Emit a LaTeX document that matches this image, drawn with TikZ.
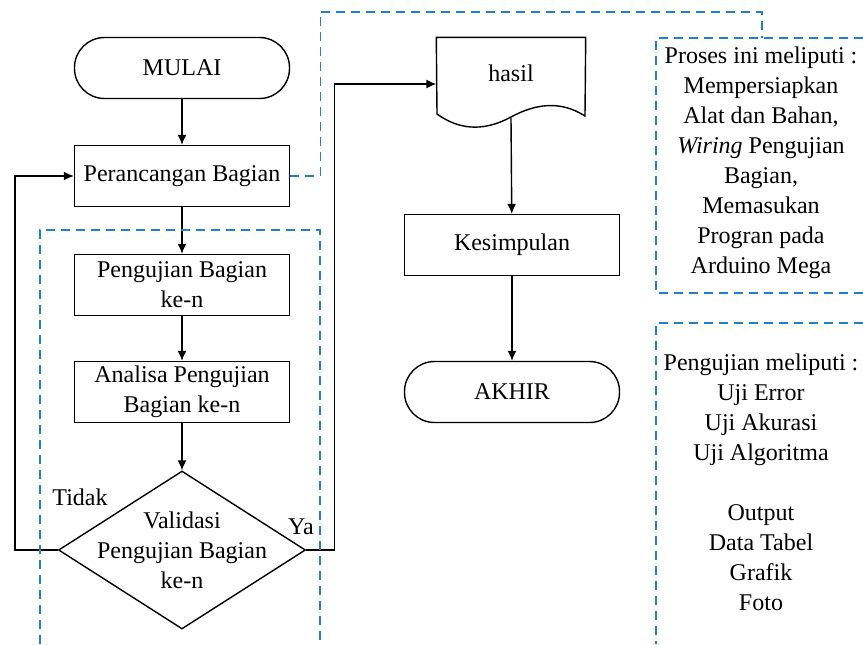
\documentclass[tikz,border=0pt]{standalone}
\usepackage{fontspec}
\setmainfont{Liberation Serif}
\usetikzlibrary{shapes.geometric,arrows.meta}
\definecolor{garisbiru}{RGB}{31,128,206}
\tikzset{
  proses/.style={draw, minimum width=107.5pt, minimum height=30.5pt, align=center, inner sep=1pt},
  terminal/.style={draw, rounded corners=15pt, minimum width=107.5pt, minimum height=30.5pt},
  putus/.style={draw=garisbiru, dash pattern=on 4.5pt off 3pt, line width=0.6pt}
}
\begin{document}
\begin{tikzpicture}[x=0.5pt, y=-0.5pt, line width=0.7pt, >={Latex[length=5pt,width=4.5pt]},
    every node/.style={font=\fontsize{12}{15}\selectfont}]
        \useasboundingbox (0,0) rectangle (863,644);
        % alur kiri
        \node[terminal] (mulai) at (182,68) {MULAI};
        \node[proses] (rancang) at (182,176) {Perancangan Bagian};
        \node[proses] (uji) at (182,285) {Pengujian Bagian\\ke-n};
        \node[proses] (analisa) at (182,392) {Analisa Pengujian\\Bagian ke-n};
        \node[draw, diamond, align=center, shape aspect=1.56, inner xsep=-12pt, inner ysep=-6pt,
              minimum width=123.5pt, minimum height=79pt] (valid) at (182,550) {Validasi\\Pengujian Bagian\\ke-n};
        \node (tidak) at (80,497) {Tidak};
        \node (ya) at (301,527) {Ya};
        % alur kanan
        \node[minimum width=74pt, minimum height=39.5pt, inner sep=0pt] (hasil) at (511,77.5) {\raisebox{4pt}{hasil}};
        \draw (hasil.north west) -- (hasil.north east) -- (585,116)
              .. controls (560,100) and (535,104) .. (511,117)
              .. controls (487,130) and (462,132) .. (437,114) -- cycle;
        \node[proses] (simpul) at (512,245) {Kesimpulan};
        \node[terminal] (akhir) at (512,392) {AKHIR};
        \draw[->] (mulai) -- (rancang);
        \draw[->] (rancang) -- (uji);
        \draw[->] (uji) -- (analisa);
        \draw[->] (analisa) -- (valid);
        \draw[->] (valid.west) -- ++(-43,0) |- (rancang.west);
        \draw[->] (valid.east) -- ++(28,0) |- ([yshift=-3.25pt]hasil.west);
        \draw[->] (hasil.south) -- (simpul);
        \draw[->] (simpul) -- (akhir);
        % keterangan
        \node[align=center] (ket1) at (761,163) {Proses ini meliputi :\\Mempersiapkan\\Alat dan Bahan,\\\textit{Wiring} Pengujian\\Bagian,\\Memasukan\\Progran pada\\Arduino Mega};
        \node[align=center] (ket2) at (761,482) {Pengujian meliputi :\\Uji Error\\Uji Akurasi\\Uji Algoritma\\[15pt]Output\\Data Tabel\\Grafik\\Foto};
        \coordinate (kettop) at (762,38);
        \draw[putus] (rancang.east) -- ++(30,0) |- (762,12) -- (kettop);
        \draw[putus] (863,38) -- (656,38) -- (656,293) -- (863,293);
        \draw[putus] (863,323) -- (656,323) -- (656,644);
        \draw[putus] (40,644) -- (40,230) -- (320,230) -- (320,644);
\end{tikzpicture}
\end{document}
